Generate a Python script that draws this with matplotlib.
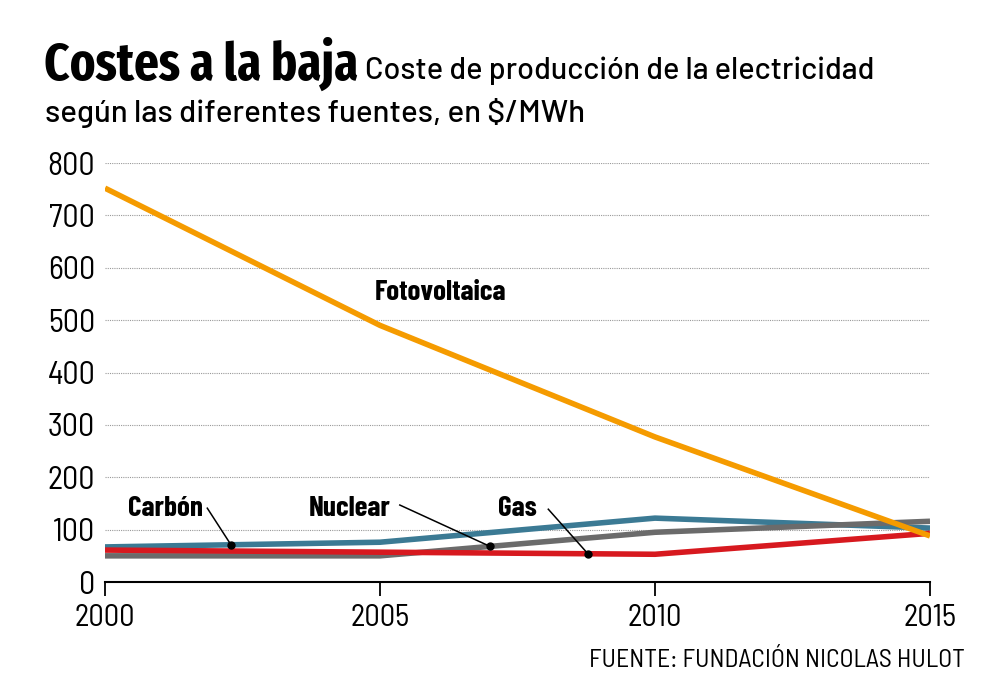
import numpy as np
import matplotlib.pyplot as plt

years = [2000, 2005, 2010, 2015]
fotovoltaica = [752, 490, 277, 88]
carbon = [67, 76, 122, 103]
gas = [61, 57, 53, 93]
nuclear = [50, 50, 95, 116]

yticks = [0, 100, 200, 300, 400, 500, 600, 700, 800]

COND = ['Barlow Condensed', 'DejaVu Sans']
XCOND = ['Fira Sans Extra Condensed', 'Barlow Condensed', 'DejaVu Sans']
SEMI = ['Barlow Semi Condensed', 'DejaVu Sans']
WIDE = ['Barlow', 'DejaVu Sans']
plt.rcParams['font.family'] = SEMI

fig = plt.figure(figsize=(10, 6.91), dpi=100)
ax = fig.add_axes([0.105, 0.1577, 0.825, 0.6064])

for v in yticks[1:]:
    ax.axhline(v, color='#999999', lw=0.8, ls=(0, (1, 1)), zorder=0)

ax.plot(years, nuclear, color='#6b6b6b', lw=4, solid_capstyle='butt', zorder=2)
ax.plot(years, gas, color='#d7191f', lw=4, solid_capstyle='butt', zorder=3)
ax.plot(years, carbon, color='#3b7a94', lw=4, solid_capstyle='butt', zorder=1)
ax.plot(years, fotovoltaica, color='#f59b00', lw=4, solid_capstyle='butt', zorder=4)

ax.set_xlim(2000, 2015)
ax.set_ylim(0, 800)
for s in ['top', 'right', 'left']:
    ax.spines[s].set_visible(False)
ax.spines['bottom'].set_linewidth(1.5)
ax.set_xticks(years)
ax.set_yticks(yticks)
ax.tick_params(axis='x', length=10, width=1.3, direction='out', labelsize=22, pad=6)
ax.tick_params(axis='y', length=0, labelsize=23, pad=7)

# labels with leader lines
def label(txt, tx, ty, x0, y0, series, px):
    py = np.interp(px, years, series)
    ax.text(tx, ty, txt, ha='center', va='center', fontsize=21,
            fontweight='bold', family=COND)
    ax.plot([x0, px], [y0, py], color='black', lw=1.1, zorder=6)
    ax.plot(px, py, 'o', color='black', ms=5, zorder=6)

label('Carbón', 2001.1, 141, 2001.86, 141, carbon, 2002.29)
label('Nuclear', 2004.45, 141, 2005.36, 147, nuclear, 2007.0)
label('Gas', 2007.5, 141, 2008.06, 139, gas, 2008.78)
ax.text(2006.1, 553, 'Fotovoltaica', ha='center', va='center', fontsize=21,
        fontweight='bold', family=COND)

fig.text(0.044, 0.885, 'Costes a la baja', fontsize=38, fontweight='bold',
         family=XCOND, va='baseline')
fig.text(0.365, 0.885, 'Coste de producción de la electricidad', fontsize=22,
         fontweight='medium', family=WIDE, va='baseline')
fig.text(0.045, 0.823, 'según las diferentes fuentes, en $/MWh', fontsize=22.5,
         fontweight='medium', family=WIDE, va='baseline')
fig.text(0.965, 0.035, 'FUENTE: FUNDACIÓN NICOLAS HULOT', fontsize=18.5,
         ha='right', va='baseline')

fig.savefig('out.png', dpi=100)
